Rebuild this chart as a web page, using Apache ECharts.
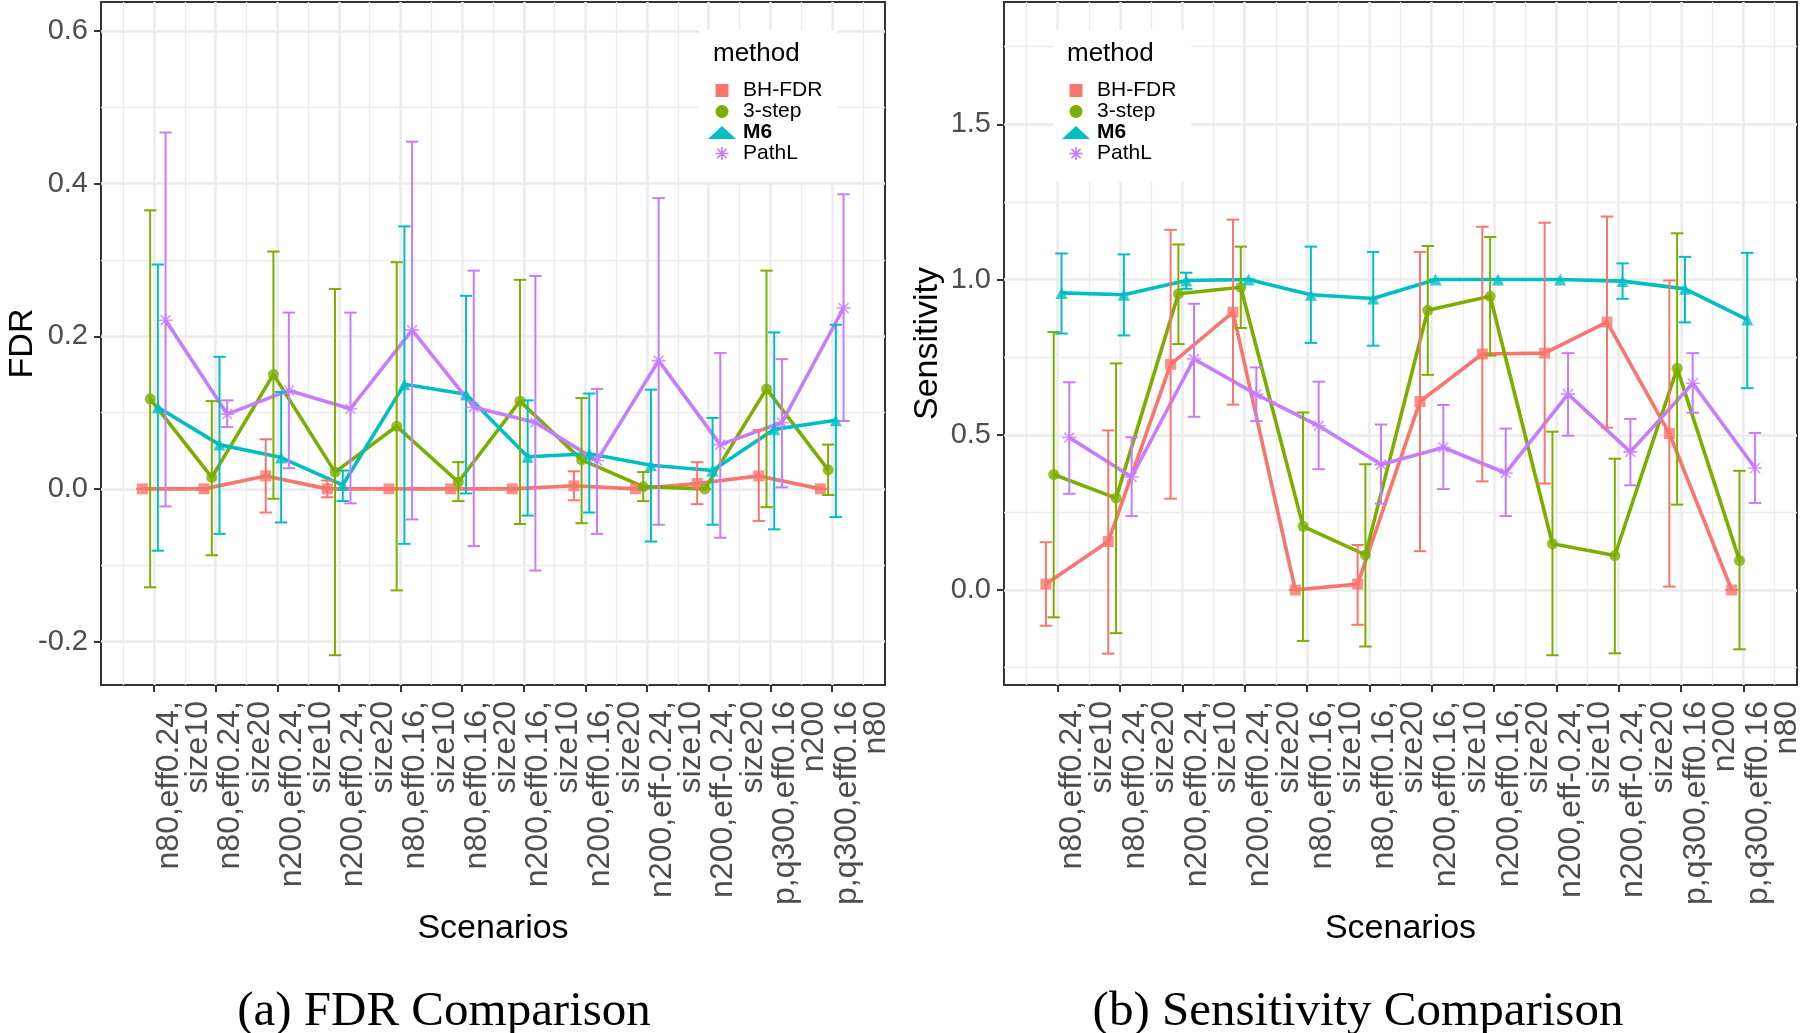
<!DOCTYPE html>
<html>
<head>
<meta charset="utf-8">
<script src="https://cdn.jsdelivr.net/npm/echarts@6/dist/echarts.min.js"></script>
<style>
html,body{margin:0;padding:0;background:#fff;}
#chart{width:1800px;height:1033px;}
</style>
</head>
<body>
<div id="chart"></div>
<script>
// ---------------- data ----------------
const categories = [
  'n80,eff0.24,\nsize10', 'n80,eff0.24,\nsize20',
  'n200,eff0.24,\nsize10', 'n200,eff0.24,\nsize20',
  'n80,eff0.16,\nsize10', 'n80,eff0.16,\nsize20',
  'n200,eff0.16,\nsize10', 'n200,eff0.16,\nsize20',
  'n200,eff-0.24,\nsize10', 'n200,eff-0.24,\nsize20',
  'p,q300,eff0.16\nn200', 'p,q300,eff0.16\nn80'
];
const methods = ['BH-FDR', '3-step', 'M6', 'PathL'];

// FDR panel
const fdrBH      = [0, 0, 0.017, 0.000, 0, 0, 0, 0.004, 0, 0.007, 0.017, 0];
const fdrBHLo    = [0, 0, -0.031, -0.011, 0, 0, 0, -0.015, 0, -0.020, -0.042, 0];
const fdrBHHi    = [0, 0, 0.065, 0.011, 0, 0, 0, 0.023, 0, 0.035, 0.077, 0];
const fdr3s      = [0.118, 0.015, 0.150, 0.022, 0.082, 0.009, 0.115, 0.038, 0.003, 0.000, 0.131, 0.025];
const fdr3sLo    = [-0.129, -0.087, -0.013, -0.218, -0.133, -0.016, -0.046, -0.045, -0.016, 0.000, -0.024, -0.008];
const fdr3sHi    = [0.365, 0.115, 0.311, 0.262, 0.297, 0.035, 0.274, 0.119, 0.022, 0.000, 0.286, 0.058];
const fdrM6      = [0.107, 0.058, 0.041, 0.005, 0.137, 0.124, 0.042, 0.046, 0.031, 0.024, 0.078, 0.090];
const fdrM6Lo    = [-0.081, -0.059, -0.044, -0.016, -0.072, -0.006, -0.035, -0.031, -0.069, -0.047, -0.053, -0.037];
const fdrM6Hi    = [0.294, 0.173, 0.127, 0.024, 0.344, 0.253, 0.116, 0.125, 0.130, 0.093, 0.205, 0.215];
const fdrPL      = [0.221, 0.098, 0.129, 0.105, 0.208, 0.107, 0.087, 0.037, 0.168, 0.058, 0.087, 0.237];
const fdrPLLo    = [-0.023, 0.081, 0.027, -0.019, -0.040, -0.075, -0.107, -0.059, -0.047, -0.064, 0.002, 0.089];
const fdrPLHi    = [0.467, 0.116, 0.231, 0.231, 0.455, 0.286, 0.279, 0.131, 0.381, 0.178, 0.170, 0.386];

// Sensitivity panel
const senBH      = [0.019, 0.156, 0.727, 0.895, 0.000, 0.019, 0.607, 0.760, 0.763, 0.863, 0.504, 0.000];
const senBHLo    = [-0.115, -0.205, 0.294, 0.597, 0, -0.112, 0.125, 0.350, 0.343, 0.523, 0.011, 0];
const senBHHi    = [0.154, 0.514, 1.160, 1.193, 0, 0.145, 1.089, 1.170, 1.183, 1.203, 0.997, 0];
const sen3s      = [0.372, 0.296, 0.954, 0.975, 0.205, 0.113, 0.901, 0.946, 0.149, 0.111, 0.714, 0.095];
const sen3sLo    = [-0.088, -0.139, 0.792, 0.844, -0.164, -0.182, 0.693, 0.755, -0.210, -0.204, 0.275, -0.191];
const sen3sHi    = [0.831, 0.730, 1.113, 1.106, 0.572, 0.405, 1.108, 1.137, 0.510, 0.423, 1.149, 0.384];
const senM6      = [0.957, 0.951, 0.997, 1.000, 0.951, 0.939, 1.000, 1.000, 1.000, 0.995, 0.970, 0.871];
const senM6Lo    = [0.826, 0.820, 0.970, 1.000, 0.796, 0.787, 1.000, 1.000, 1.000, 0.938, 0.862, 0.650];
const senM6Hi    = [1.084, 1.081, 1.022, 1.000, 1.106, 1.089, 1.000, 1.000, 1.000, 1.052, 1.073, 1.086];
const senPL      = [0.491, 0.364, 0.744, 0.630, 0.529, 0.404, 0.459, 0.377, 0.631, 0.445, 0.666, 0.393];
const senPLLo    = [0.310, 0.238, 0.558, 0.544, 0.389, 0.278, 0.325, 0.238, 0.497, 0.337, 0.571, 0.280];
const senPLHi    = [0.669, 0.492, 0.922, 0.717, 0.671, 0.533, 0.596, 0.520, 0.763, 0.551, 0.763, 0.506];

// tick labels
const fdrTicks = [-0.2, 0, 0.2, 0.4, 0.6];
const fdrMinor = [-0.1, 0.1, 0.3, 0.5];
const senTicks = [0, 0.5, 1.0, 1.5];
const senMinor = [-0.25, 0.25, 0.75, 1.25, 1.75];

// ---------------- style ----------------
const colors = ['#F8766D', '#7CAE00', '#00BFC4', '#C77CFF'];
const dodge = [-0.1875, -0.0625, 0.0625, 0.1875];
const starPath = 'path://M0 -10L0 10M-10 0L10 0M-7.07 -7.07L7.07 7.07M-7.07 7.07L7.07 -7.07';
const squarePath = 'path://M0 0H10V10H0Z';
const symbols = ['rect', 'circle', 'triangle', starPath];
const legendIcons = [squarePath, 'circle', 'triangle', starPath];
const symSizes = [11, 11, 12, 14];
const FONT = 'Liberation Sans, Arial, sans-serif';

const catIdx = categories.map((c, i) => i + 1);
const minorX = [0.5].concat(catIdx.map(v => v + 0.5));

const panels = [
  { name: 'FDR', min: -0.257, max: 0.638, ticks: fdrTicks, minor: fdrMinor, nameGap: 61,
    mean: [fdrBH, fdr3s, fdrM6, fdrPL], lo: [fdrBHLo, fdr3sLo, fdrM6Lo, fdrPLLo], hi: [fdrBHHi, fdr3sHi, fdrM6Hi, fdrPLHi],
    grid: { left: 101, top: 2, width: 784, height: 683 } },
  { name: 'Sensitivity', min: -0.306, max: 1.894, ticks: senTicks, minor: senMinor, nameGap: 59,
    mean: [senBH, sen3s, senM6, senPL], lo: [senBHLo, sen3sLo, senM6Lo, senPLLo], hi: [senBHHi, sen3sHi, senM6Hi, senPLHi],
    grid: { left: 1004, top: 2, width: 793, height: 683 } }
];

const grids = [], xAxes = [], yAxes = [], series = [];
panels.forEach((p, g) => {
  grids.push(Object.assign({ show: true, borderColor: '#333333', borderWidth: 2, backgroundColor: '#fff', containLabel: false, outerBoundsMode: 'none' }, p.grid));
  xAxes.push({
    type: 'value', gridIndex: g, min: 0.14, max: 12.86, position: 'bottom',
    name: 'Scenarios', nameLocation: 'middle', nameGap: 227, nameMoveOverlap: false,
    nameTextStyle: { fontSize: 34, color: '#000', fontFamily: FONT },
    axisLine: { show: false, onZero: false },
    axisTick: { show: true, length: 7, customValues: catIdx, lineStyle: { color: '#333', width: 2 } },
    axisLabel: { show: true, customValues: catIdx, rotate: 90, align: 'right', verticalAlign: 'top',
      margin: 16, fontSize: 32, lineHeight: 29.5, color: '#4D4D4D', fontFamily: FONT, interval: 0, hideOverlap: false,
      formatter: v => categories[Math.round(v) - 1] },
    splitLine: { show: true, lineStyle: { color: '#EBEBEB', width: 2.5 } },
    minorTick: { show: false }, minorSplitLine: { show: false }
  });
  xAxes.push({
    type: 'value', gridIndex: g, min: 0.14, max: 12.86, position: 'top',
    axisLine: { show: false, onZero: false }, axisLabel: { show: false },
    axisTick: { show: false, customValues: minorX },
    splitLine: { show: true, lineStyle: { color: '#EBEBEB', width: 1.3 } }
  });
  yAxes.push({
    type: 'value', gridIndex: g, min: p.min, max: p.max, position: 'left',
    name: p.name, nameLocation: 'middle', nameGap: p.nameGap, nameMoveOverlap: false,
    nameTextStyle: { fontSize: 34, color: '#000', fontFamily: FONT },
    axisLine: { show: false, onZero: false },
    axisTick: { show: true, length: 7, customValues: p.ticks, lineStyle: { color: '#333', width: 2 } },
    axisLabel: { show: true, customValues: p.ticks, margin: 13, fontSize: 29, color: '#4D4D4D', fontFamily: FONT,
      showMinLabel: true, showMaxLabel: true,
      formatter: v => v.toFixed(1) },
    splitLine: { show: true, lineStyle: { color: '#EBEBEB', width: 2.5 } }
  });
  yAxes.push({
    type: 'value', gridIndex: g, min: p.min, max: p.max, position: 'right',
    axisLine: { show: false, onZero: false }, axisLabel: { show: false },
    axisTick: { show: false, customValues: p.minor },
    splitLine: { show: true, lineStyle: { color: '#EBEBEB', width: 1.3 } }
  });

  methods.forEach((m, k) => {
    const pts = p.mean[k].map((v, i) => [i + 1 + dodge[k], v]);
    const bars = p.lo[k].map((l, i) => [i + 1 + dodge[k], l, p.hi[k][i]]);
    series.push({
      type: 'line', name: m, xAxisIndex: 2 * g, yAxisIndex: 2 * g, data: pts,
      showSymbol: false, lineStyle: { color: colors[k], width: 3.6 }, itemStyle: { color: colors[k] },
      z: 2, silent: true, animation: false
    });
    series.push({
      type: 'custom', name: m, xAxisIndex: 2 * g, yAxisIndex: 2 * g, data: bars,
      encode: { x: 0, y: [1, 2] }, z: 3, silent: true, animation: false,
      itemStyle: { color: colors[k] },
      renderItem: (params, api) => {
        const x = api.value(0);
        const a = api.coord([x, api.value(1)]);
        const b = api.coord([x, api.value(2)]);
        const hw = api.size([0.2, 0])[0] / 2;
        const st = { stroke: colors[k], lineWidth: 2 };
        return { type: 'group', children: [
          { type: 'line', shape: { x1: a[0], y1: a[1], x2: b[0], y2: b[1] }, style: st },
          { type: 'line', shape: { x1: a[0] - hw, y1: a[1], x2: a[0] + hw, y2: a[1] }, style: st },
          { type: 'line', shape: { x1: b[0] - hw, y1: b[1], x2: b[0] + hw, y2: b[1] }, style: st }
        ] };
      }
    });
    series.push({
      type: 'scatter', name: m, xAxisIndex: 2 * g, yAxisIndex: 2 * g, data: pts,
      symbol: symbols[k], symbolSize: symSizes[k],
      itemStyle: k === 3 ? { color: colors[k], borderColor: colors[k], borderWidth: 1.6 } : { color: colors[k] },
      z: 4, silent: true, animation: false
    });
  });
});

const legendData = methods.map((m, k) => ({
  name: m, icon: legendIcons[k],
  itemStyle: k === 3 ? { color: colors[k], borderColor: colors[k], borderWidth: 1.6 } : { color: colors[k], borderWidth: 0 }
}));
function makeLegend(left) {
  return {
    show: true, orient: 'vertical', left: left, top: 30, padding: [50, 15, 18, 9],
    backgroundColor: '#fff', itemWidth: 28, itemHeight: 13, itemGap: 0, selectedMode: false,
    symbolKeepAspect: true,
    textStyle: { fontSize: 21, lineHeight: 21, color: '#000', fontFamily: FONT, padding: [0, 0, 0, 2],
      rich: { b: { fontSize: 21, lineHeight: 21, fontWeight: 'bold', color: '#000', fontFamily: FONT } } },
    formatter: n => n === 'M6' ? '{b|M6}' : n,
    data: legendData
  };
}

const option = {
  backgroundColor: '#fff',
  animation: false,
  grid: grids,
  xAxis: xAxes,
  yAxis: yAxes,
  legend: [makeLegend(699), makeLegend(1053)],
  title: [
    { text: 'method', left: 708, top: 36, z: 10, textStyle: { fontSize: 26, fontWeight: 'normal', color: '#000', fontFamily: FONT } },
    { text: 'method', left: 1062, top: 36, z: 10, textStyle: { fontSize: 26, fontWeight: 'normal', color: '#000', fontFamily: FONT } }
  ],
  graphic: [
    { type: 'text', x: 444, y: 1012, style: { text: '(a) FDR Comparison', textAlign: 'center', textVerticalAlign: 'middle', font: '49px "Liberation Serif", serif', fill: '#000' } },
    { type: 'text', x: 1358, y: 1012, style: { text: '(b) Sensitivity Comparison', textAlign: 'center', textVerticalAlign: 'middle', font: '49px "Liberation Serif", serif', fill: '#000' } }
  ],
  series: series
};

const chart = echarts.init(document.getElementById('chart'), null, { renderer: 'canvas' });
chart.setOption(option);
</script>
</body>
</html>
